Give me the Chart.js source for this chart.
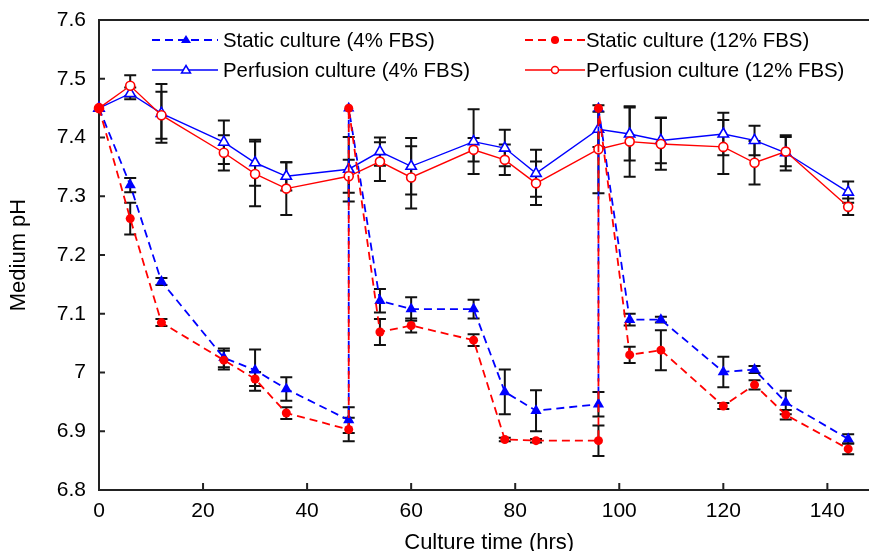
<!DOCTYPE html>
<html>
<head>
<meta charset="utf-8">
<title>Medium pH</title>
<script src="https://cdn.jsdelivr.net/npm/chart.js@4.4.1/dist/chart.umd.min.js"></script>
<style>
  html, body { margin: 0; padding: 0; overflow: hidden; background: #fff; }
  #wrap { position: relative; width: 887px; height: 551px; }
  .txt { position: absolute; font: 20.4px "Liberation Sans", Arial, sans-serif; color: #000; white-space: nowrap; line-height: 24px; }
  .ico { position: absolute; }
</style>
</head>
<body>
<div id="wrap">
  <canvas id="phChart" width="887" height="551"></canvas>

  <svg class="ico" style="left:150px;top:28px" width="70" height="24">
    <line x1="2" y1="12" x2="68" y2="12" stroke="#0000ff" stroke-width="2" stroke-dasharray="8,5"/>
    <polygon points="36,7 41,15 31,15" fill="#0000ff"/>
  </svg>
  <div class="txt" style="left:223px;top:28px">Static culture (4% FBS)</div>

  <svg class="ico" style="left:523px;top:28px" width="64" height="24">
    <line x1="2" y1="12" x2="62" y2="12" stroke="#ff0000" stroke-width="2" stroke-dasharray="8,5"/>
    <circle cx="32" cy="12" r="4" fill="#ff0000"/>
  </svg>
  <div class="txt" style="left:586px;top:28px">Static culture (12% FBS)</div>

  <svg class="ico" style="left:150px;top:58px" width="70" height="24">
    <line x1="2" y1="12" x2="68" y2="12" stroke="#0000ff" stroke-width="1.5"/>
    <polygon points="36,7.5 40.5,15 31.5,15" fill="#fff" stroke="#0000ff" stroke-width="1.5"/>
  </svg>
  <div class="txt" style="left:223px;top:58px">Perfusion culture (4% FBS)</div>

  <svg class="ico" style="left:523px;top:58px" width="64" height="24">
    <line x1="2" y1="12" x2="62" y2="12" stroke="#ff0000" stroke-width="1.5"/>
    <circle cx="32" cy="12" r="3.5" fill="#fff" stroke="#ff0000" stroke-width="1.5"/>
  </svg>
  <div class="txt" style="left:586px;top:58px">Perfusion culture (12% FBS)</div>
</div>

<script>
  // time points (hrs); static series go back up to 7.45 at media change (48, 96)
  const staticTimes = [0, 6, 12, 24, 30, 36, 48, 48, 54, 60, 72, 78, 84, 96, 96, 102, 108, 120, 126, 132, 144];
  const perfTimes = [0, 6, 12, 24, 30, 36, 48, 54, 60, 72, 78, 84, 96, 102, 108, 120, 126, 132, 144];

  const static4 = [7.45, 7.319, 7.155, 7.025, 7.004, 6.972, 6.919, 7.45, 7.122, 7.108, 7.108, 6.967, 6.935, 6.946, 7.45, 7.090, 7.090, 7.001, 7.005, 6.949, 6.887];
  const static4Err = [0, 0.012, 0.006, 0.016, 0.035, 0.02, 0.022, 0, 0.02, 0.02, 0.016, 0.038, 0.035, 0.021, 0, 0.01, 0.005, 0.026, 0.006, 0.02, 0.008];

  const static12 = [7.45, 7.262, 7.085, 7.021, 6.989, 6.931, 6.903, 7.45, 7.069, 7.080, 7.055, 6.886, 6.884, 6.884, 7.45, 7.030, 7.038, 6.943, 6.979, 6.928, 6.870];
  const static12Err = [0, 0.027, 0.006, 0.016, 0.012, 0.01, 0.02, 0, 0.022, 0.012, 0.01, 0.003, 0.003, 0.026, 0, 0.014, 0.034, 0.005, 0.008, 0.008, 0.009];

  const perf4 = [7.45, 7.475, 7.441, 7.392, 7.357, 7.334, 7.346, 7.376, 7.351, 7.393, 7.382, 7.339, 7.414, 7.406, 7.395, 7.406, 7.395, 7.374, 7.307];
  const perf4Err = [0, 0.01, 0.05, 0.037, 0.039, 0.024, 0.055, 0.024, 0.048, 0.055, 0.031, 0.04, 0.03, 0.045, 0.039, 0.036, 0.025, 0.03, 0.018];

  const perf12 = [7.45, 7.488, 7.438, 7.374, 7.338, 7.313, 7.334, 7.359, 7.332, 7.379, 7.362, 7.322, 7.380, 7.393, 7.389, 7.384, 7.357, 7.376, 7.282];
  const perf12Err = [0, 0.018, 0.04, 0.03, 0.055, 0.045, 0.028, 0.033, 0.053, 0.02, 0.026, 0.037, 0.075, 0.06, 0.044, 0.046, 0.037, 0.025, 0.014];

  const xTicks = [0, 20, 40, 60, 80, 100, 120, 140];
  const yTicks = [6.8, 6.9, 7.0, 7.1, 7.2, 7.3, 7.4, 7.5, 7.6];

  const FONT = '"Liberation Sans", Arial, sans-serif';
  const pts = (xs, ys) => xs.map((t, i) => ({ x: t, y: ys[i] }));

  // black error bars + matlab-ish box with inward ticks
  const axesAndErrors = {
    id: 'axesAndErrors',
    beforeDatasetsDraw(chart) {
      const { ctx, chartArea: a, scales: { x, y } } = chart;
      ctx.save();
      ctx.strokeStyle = '#222';
      ctx.lineWidth = 2;
      ctx.beginPath();
      ctx.moveTo(a.right, a.top); ctx.lineTo(a.left, a.top);
      ctx.lineTo(a.left, a.bottom); ctx.lineTo(a.right, a.bottom);
      yTicks.forEach(v => {
        const py = y.getPixelForValue(v);
        ctx.moveTo(a.left, py); ctx.lineTo(a.left + 6, py);
      });
      xTicks.forEach(v => {
        const px = x.getPixelForValue(v);
        ctx.moveTo(px, a.bottom); ctx.lineTo(px, a.bottom - 7);
      });
      ctx.stroke();

      ctx.strokeStyle = '#111';
      ctx.lineWidth = 2;
      chart.data.datasets.forEach(ds => {
        ds.data.forEach((p, i) => {
          const e = ds.err[i];
          if (!e) return;
          const px = x.getPixelForValue(p.x);
          const y1 = y.getPixelForValue(p.y - e);
          const y2 = y.getPixelForValue(p.y + e);
          ctx.beginPath();
          ctx.moveTo(px, y1); ctx.lineTo(px, y2);
          ctx.moveTo(px - 6, y1); ctx.lineTo(px + 6, y1);
          ctx.moveTo(px - 6, y2); ctx.lineTo(px + 6, y2);
          ctx.stroke();
        });
      });
      ctx.restore();
    }
  };

  new Chart(document.getElementById('phChart'), {
    type: 'line',
    data: {
      datasets: [
        {
          label: 'Static culture (12% FBS)',
          data: pts(staticTimes, static12),
          err: static12Err,
          borderColor: '#ff0000',
          backgroundColor: '#ff0000',
          borderWidth: 1.8,
          borderDash: [8, 5],
          pointStyle: 'circle',
          pointRadius: 4.5,
          pointBorderWidth: 0,
          clip: false
        },
        {
          label: 'Perfusion culture (12% FBS)',
          data: pts(perfTimes, perf12),
          err: perf12Err,
          borderColor: '#ff0000',
          backgroundColor: '#ffffff',
          borderWidth: 1.4,
          pointStyle: 'circle',
          pointRadius: 4.5,
          pointBorderWidth: 1.6,
          clip: false
        },
        {
          label: 'Static culture (4% FBS)',
          data: pts(staticTimes, static4),
          err: static4Err,
          borderColor: '#0000ff',
          backgroundColor: '#0000ff',
          borderWidth: 1.8,
          borderDash: [8, 5],
          pointStyle: 'triangle',
          pointRadius: 6.5,
          pointBorderWidth: 0,
          clip: false
        },
        {
          label: 'Perfusion culture (4% FBS)',
          data: pts(perfTimes, perf4),
          err: perf4Err,
          borderColor: '#0000ff',
          backgroundColor: '#ffffff',
          borderWidth: 1.4,
          pointStyle: 'triangle',
          pointRadius: 6,
          pointBorderWidth: 1.6,
          clip: false
        }
      ]
    },
    options: {
      responsive: false,
      animation: false,
      layout: { padding: { top: 20, right: 2, left: 0, bottom: 0 } },
      plugins: { legend: { display: false }, tooltip: { enabled: false } },
      scales: {
        x: {
          type: 'linear',
          min: 0,
          max: 150,
          grid: { display: false, drawTicks: false },
          border: { display: false },
          afterBuildTicks: s => { s.ticks = xTicks.map(v => ({ value: v })); },
          afterFit: s => { s.height = 61; },
          ticks: { font: { size: 21, family: FONT }, color: '#000', padding: 9, maxRotation: 0 },
          title: { display: true, text: 'Culture time (hrs)', font: { size: 22, family: FONT, lineHeight: 0.75 }, color: '#000', padding: 0 }
        },
        y: {
          min: 6.8,
          max: 7.6,
          grid: { display: false, drawTicks: false },
          border: { display: false },
          afterBuildTicks: s => { s.ticks = yTicks.map(v => ({ value: v })); },
          afterFit: s => { s.width = 99; s.paddingTop = 0; s.paddingBottom = 0; },
          ticks: {
            font: { size: 21, family: FONT },
            color: '#000',
            padding: 13,
            callback: v => String(Number(v.toFixed(1)))
          },
          title: { display: true, text: 'Medium pH', font: { size: 22, family: FONT }, color: '#000', padding: { top: 6, bottom: 0 } }
        }
      }
    },
    plugins: [axesAndErrors]
  });
</script>
</body>
</html>
